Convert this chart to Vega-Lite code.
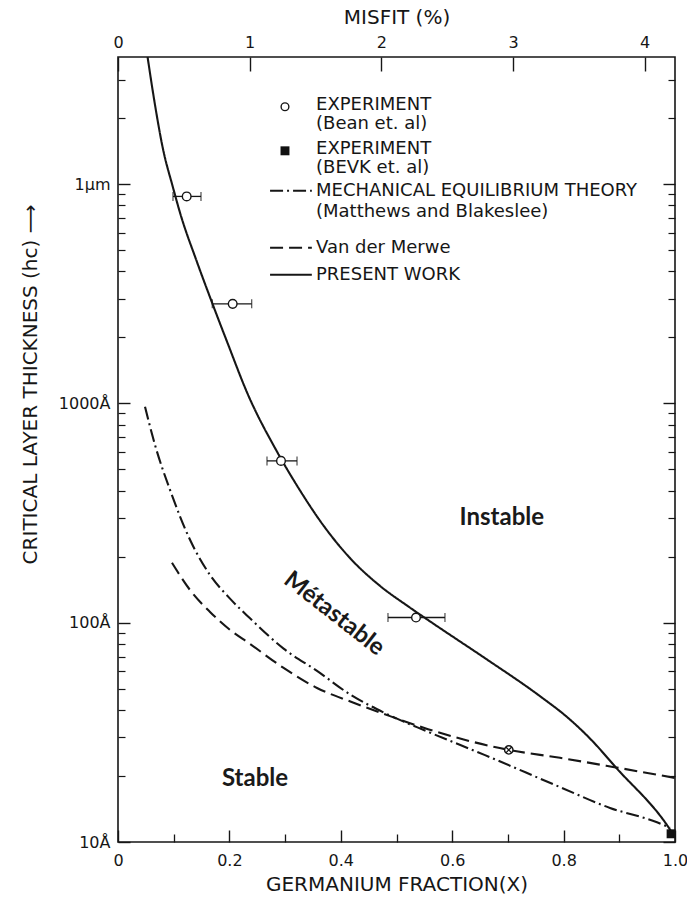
{
"$schema": "https://vega.github.io/schema/vega-lite/v6.json",
"width": 557, "height": 785,
"autosize": {"type": "none"},
"padding": {"left": 118, "top": 57, "right": 12, "bottom": 59},
"background": "white",
"config": {
  "view": {"stroke": "#161616", "strokeWidth": 1.6},
  "axis": {"domain": false, "grid": false, "ticks": true, "tickColor": "#161616", "tickWidth": 1.3, "labelColor": "#161616", "labelFont": "DejaVu Sans", "labelFontSize": 16, "labelFlush": false, "labelOverlap": false, "titleFont": "DejaVu Sans", "titleFontSize": 20, "titleFontWeight": "normal", "titleColor": "#161616"}
},
"datasets": {
  "curves": [
    {"s":"present","x":0.0531,"y":38000},{"s":"present","x":0.0646,"y":24547},{"s":"present","x":0.0808,"y":14454},{"s":"present","x":0.0987,"y":9661},{"s":"present","x":0.1113,"y":7413},{"s":"present","x":0.1418,"y":4416},{"s":"present","x":0.1688,"y":2884},{"s":"present","x":0.1957,"y":1914},{"s":"present","x":0.2334,"y":1096},{"s":"present","x":0.2855,"y":602.6},{"s":"present","x":0.3268,"y":400.9},{"s":"present","x":0.3627,"y":291.7},{"s":"present","x":0.4165,"y":197.2},{"s":"present","x":0.4704,"y":147.2},{"s":"present","x":0.5206,"y":118.9},{"s":"present","x":0.5655,"y":99.3},{"s":"present","x":0.6589,"y":68.9},{"s":"present","x":0.7558,"y":46.6},{"s":"present","x":0.8097,"y":36.5},{"s":"present","x":0.851,"y":29.0},{"s":"present","x":0.8923,"y":22.1},{"s":"present","x":0.991,"y":11.4},{"s":"present","x":1.0,"y":10.5},
    {"s":"mb","x":0.0485,"y":965},{"s":"mb","x":0.0664,"y":647},{"s":"mb","x":0.0934,"y":403},{"s":"mb","x":0.1293,"y":239},{"s":"mb","x":0.1652,"y":165},{"s":"mb","x":0.2011,"y":128.8},{"s":"mb","x":0.237,"y":104.7},{"s":"mb","x":0.2973,"y":76.2},{"s":"mb","x":0.3573,"y":60.3},{"s":"mb","x":0.4183,"y":46.8},{"s":"mb","x":0.4785,"y":38.8},{"s":"mb","x":0.5566,"y":31.8},{"s":"mb","x":0.6589,"y":24.9},{"s":"mb","x":0.7935,"y":17.8},{"s":"mb","x":0.8833,"y":14.3},{"s":"mb","x":0.9677,"y":12.3},{"s":"mb","x":0.991,"y":11.6},
    {"s":"vdm","x":0.0969,"y":187.6},{"s":"vdm","x":0.1293,"y":141},{"s":"vdm","x":0.1652,"y":112},{"s":"vdm","x":0.2011,"y":92.7},{"s":"vdm","x":0.237,"y":80},{"s":"vdm","x":0.2973,"y":62.2},{"s":"vdm","x":0.3573,"y":50.4},{"s":"vdm","x":0.4183,"y":43.6},{"s":"vdm","x":0.4883,"y":37.5},{"s":"vdm","x":0.5566,"y":32.7},{"s":"vdm","x":0.7016,"y":26.3},{"s":"vdm","x":0.7935,"y":24.2},{"s":"vdm","x":0.8887,"y":22.0},{"s":"vdm","x":1.0,"y":19.6}
  ],
  "legendLines": [
    {"s":"mb","x":0.273,"y":9330},{"s":"mb","x":0.348,"y":9330},
    {"s":"vdm","x":0.273,"y":5130},{"s":"vdm","x":0.348,"y":5130},
    {"s":"present","x":0.273,"y":3860},{"s":"present","x":0.348,"y":3860}
  ],
  "legendText": [
    {"t":"EXPERIMENT","x":0.3555,"y":23000},{"t":"(Bean et. al)","x":0.3555,"y":18860},
    {"t":"EXPERIMENT","x":0.3555,"y":14510},{"t":"(BEVK et. al)","x":0.3555,"y":11880},
    {"t":"MECHANICAL EQUILIBRIUM THEORY","x":0.3555,"y":9330},{"t":"(Matthews and Blakeslee)","x":0.3555,"y":7480},
    {"t":"Van der Merwe","x":0.3555,"y":5130},{"t":"PRESENT WORK","x":0.3555,"y":3860}
  ],
  "bean": [
    {"x":0.1233,"y":8790,"lo":0.0987,"hi":0.149},
    {"x":0.2059,"y":2845,"lo":0.1693,"hi":0.24},
    {"x":0.2926,"y":547,"lo":0.2675,"hi":0.3214},
    {"x":0.535,"y":105.6,"lo":0.4847,"hi":0.587}
  ]
},
"resolve": {"scale": {"x": "independent"}, "axis": {"x": "independent"}},
"layer": [
 {"resolve": {"axis": {"x": "independent", "y": "independent"}},
  "layer": [
   {"data": {"name": "curves"},
    "mark": {"type": "line", "color": "#161616", "strokeWidth": 2.1, "clip": true, "interpolate": "monotone"},
    "encoding": {
      "x": {"field": "x", "type": "quantitative", "scale": {"domain": [0,1], "nice": false, "zero": false},
            "axis": {"orient":"bottom","offset":-12,"values":[0,0.2,0.4,0.6,0.8,1],"labelExpr":"datum.value == 0 ? '0' : format(datum.value, '.1f')","ticks":true,"tickColor":"#161616","tickWidth":1.4,"tickOpacity":1,"tickSize":12,"labelPadding":10,"title":"GERMANIUM FRACTION(X)","titleY":54,"titleBaseline":"middle"}},
      "y": {"field": "y", "type": "quantitative", "scale": {"type": "log", "domain": [10,38000], "nice": false},
            "axis": {"orient":"left","values":[10,100,1000,10000],"labelExpr":"datum.value == 10000 ? '1µm' : datum.value + 'Å'","ticks":true,"tickColor":"#161616","tickWidth":1.4,"tickOpacity":1,"tickSize":-12,"labelPadding":20,"title":"CRITICAL LAYER THICKNESS (hc) ⟶","titleX":-88,"titleY":327,"titleAlign":"center","titleBaseline":"middle"}},
      "strokeDash": {"field": "s", "type": "nominal", "scale": {"domain": ["present","mb","vdm"], "range": [[1,0],[13,4,2,4],[13,6]]}, "legend": null}
    }},
   {"data": {"name": "legendLines"},
    "mark": {"type": "line", "color": "#161616", "strokeWidth": 2.1},
    "encoding": {
      "x": {"field": "x", "type": "quantitative", "scale": {"domain": [0,1], "nice": false, "zero": false}, "axis": null},
      "y": {"field": "y", "type": "quantitative", "scale": {"type": "log", "domain": [10,38000], "nice": false}, "axis": null},
      "strokeDash": {"field": "s", "type": "nominal", "legend": null}
    }},
   {"data": {"name": "bean"},
    "mark": {"type": "rule", "color": "#161616", "strokeWidth": 1.3},
    "encoding": {
      "x": {"field": "lo", "type": "quantitative", "scale": {"domain": [0,1], "nice": false, "zero": false}, "axis": null},
      "x2": {"field": "hi"},
      "y": {"field": "y", "type": "quantitative", "scale": {"type": "log", "domain": [10,38000], "nice": false},
            "axis": {"orient":"right","offset":-12,"values":[10,100,1000,10000],"labels":false,"ticks":true,"tickColor":"#161616","tickWidth":1.4,"tickOpacity":1,"tickSize":12,"title":null}}
    }},
   {"data": {"name": "bean"},
    "mark": {"type": "tick", "orient": "vertical", "size": 9, "thickness": 1.3, "color": "#161616"},
    "encoding": {
      "x": {"field": "lo", "type": "quantitative", "scale": {"domain": [0,1], "nice": false, "zero": false}, "axis": null},
      "y": {"field": "y", "type": "quantitative", "scale": {"type": "log", "domain": [10,38000], "nice": false},
            "axis": {"orient":"right","offset":-7,"values":[20,30,40,50,60,70,80,90,200,300,400,500,600,700,800,900,2000,3000,4000,5000,6000,7000,8000,9000,20000,30000],"labels":false,"ticks":true,"tickColor":"#161616","tickWidth":1.2,"tickOpacity":1,"tickSize":7,"title":null}}
    }},
   {"data": {"name": "bean"},
    "mark": {"type": "tick", "orient": "vertical", "size": 9, "thickness": 1.3, "color": "#161616"},
    "encoding": {
      "x": {"field": "hi", "type": "quantitative", "scale": {"domain": [0,1], "nice": false, "zero": false}, "axis": null},
      "y": {"field": "y", "type": "quantitative", "scale": {"type": "log", "domain": [10,38000], "nice": false}, "axis": null}
    }},
   {"data": {"name": "bean"},
    "mark": {"type": "point", "shape": "circle", "filled": true, "fill": "white", "stroke": "#161616", "strokeWidth": 1.4, "size": 75, "opacity": 1},
    "encoding": {
      "x": {"field": "x", "type": "quantitative", "scale": {"domain": [0,1], "nice": false, "zero": false},
            "axis": {"orient":"bottom","offset":-8,"values":[0.1,0.3,0.5,0.7,0.9],"labels":false,"ticks":true,"tickColor":"#161616","tickWidth":1.3,"tickOpacity":1,"tickSize":8,"title":null}},
      "y": {"field": "y", "type": "quantitative", "scale": {"type": "log", "domain": [10,38000], "nice": false},
            "axis": {"orient":"left","offset":-7,"values":[20,30,40,50,60,70,80,90,200,300,400,500,600,700,800,900,2000,3000,4000,5000,6000,7000,8000,9000,20000,30000],"labels":false,"ticks":true,"tickColor":"#161616","tickWidth":1.2,"tickOpacity":1,"tickSize":7,"title":null}}
    }},
   {"data": {"values": [{"x":0.2998,"y":22540}]},
    "mark": {"type": "point", "shape": "circle", "filled": true, "fill": "white", "stroke": "#161616", "strokeWidth": 1.4, "size": 60, "opacity": 1},
    "encoding": {
      "x": {"field": "x", "type": "quantitative", "scale": {"domain": [0,1], "nice": false, "zero": false}, "axis": null},
      "y": {"field": "y", "type": "quantitative", "scale": {"type": "log", "domain": [10,38000], "nice": false}, "axis": null}
    }},
   {"data": {"values": [{"x":0.2998,"y":14190},{"x":0.993,"y":10.9}]},
    "mark": {"type": "point", "shape": "square", "filled": true, "color": "#111111", "size": 80, "opacity": 1},
    "encoding": {
      "x": {"field": "x", "type": "quantitative", "scale": {"domain": [0,1], "nice": false, "zero": false}, "axis": null},
      "y": {"field": "y", "type": "quantitative", "scale": {"type": "log", "domain": [10,38000], "nice": false}, "axis": null}
    }},
   {"data": {"values": [{"x":0.7016,"y":26.3}]},
    "mark": {"type": "point", "shape": "circle", "filled": true, "fill": "white", "stroke": "#161616", "strokeWidth": 1.4, "size": 70, "opacity": 1},
    "encoding": {
      "x": {"field": "x", "type": "quantitative", "scale": {"domain": [0,1], "nice": false, "zero": false}, "axis": null},
      "y": {"field": "y", "type": "quantitative", "scale": {"type": "log", "domain": [10,38000], "nice": false}, "axis": null}
    }},
   {"data": {"values": [{"x":0.7016,"y":26.3}]},
    "mark": {"type": "point", "shape": "M-0.7,-0.7L0.7,0.7M-0.7,0.7L0.7,-0.7", "filled": false, "stroke": "#161616", "strokeWidth": 1.3, "size": 70, "opacity": 1},
    "encoding": {
      "x": {"field": "x", "type": "quantitative", "scale": {"domain": [0,1], "nice": false, "zero": false}, "axis": null},
      "y": {"field": "y", "type": "quantitative", "scale": {"type": "log", "domain": [10,38000], "nice": false}, "axis": null}
    }},
   {"data": {"name": "legendText"},
    "mark": {"type": "text", "align": "left", "baseline": "middle", "font": "DejaVu Sans", "fontSize": 18, "color": "#161616"},
    "encoding": {
      "x": {"field": "x", "type": "quantitative", "scale": {"domain": [0,1], "nice": false, "zero": false}, "axis": null},
      "y": {"field": "y", "type": "quantitative", "scale": {"type": "log", "domain": [10,38000], "nice": false}, "axis": null},
      "text": {"field": "t"}
    }},
   {"data": {"values": [{"t":"Instable","x":0.689,"y":300.8},{"t":"Stable","x":0.246,"y":19.4}]},
    "mark": {"type": "text", "align": "center", "baseline": "middle", "font": "Lato", "fontWeight": "bold", "fontSize": 24, "color": "#1a1a1a"},
    "encoding": {
      "x": {"field": "x", "type": "quantitative", "scale": {"domain": [0,1], "nice": false, "zero": false}, "axis": null},
      "y": {"field": "y", "type": "quantitative", "scale": {"type": "log", "domain": [10,38000], "nice": false}, "axis": null},
      "text": {"field": "t"}
    }},
   {"data": {"values": [{"t":"Métastable","x":0.388,"y":109.6}]},
    "mark": {"type": "text", "align": "center", "baseline": "middle", "font": "Lato", "fontWeight": "bold", "fontSize": 24, "angle": 38, "color": "#1a1a1a"},
    "encoding": {
      "x": {"field": "x", "type": "quantitative", "scale": {"domain": [0,1], "nice": false, "zero": false}, "axis": null},
      "y": {"field": "y", "type": "quantitative", "scale": {"type": "log", "domain": [10,38000], "nice": false}, "axis": null},
      "text": {"field": "t"}
    }}
  ]},
 {"data": {"values": [{"m":0},{"m":4.23}]},
  "mark": {"type": "point", "opacity": 0},
  "encoding": {
    "x": {"field": "m", "type": "quantitative", "scale": {"domain": [0,4.23], "nice": false, "zero": false},
          "axis": {"orient":"top","offset":-14,"values":[0,1,2,3,4],"format":"d","ticks":true,"tickColor":"#161616","tickWidth":1.4,"tickOpacity":1,"tickSize":14,"labelPadding":7,"title":"MISFIT (%)","titleY":-54,"titleBaseline":"middle"}}
  }}
]
}
